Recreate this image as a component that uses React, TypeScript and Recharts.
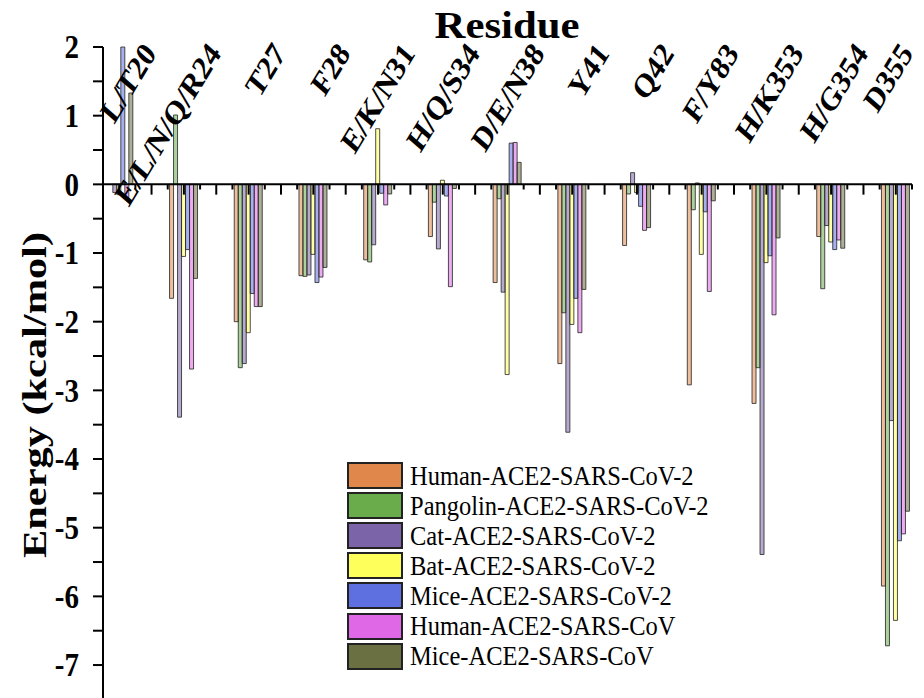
import { Bar, BarChart, Customized, Legend, ReferenceLine, XAxis, YAxis } from "recharts";

const SERIF = "'Liberation Serif', 'Times New Roman', serif";

const residues = [
  "L/T20",
  "E/L/N/Q/R24",
  "T27",
  "F28",
  "E/K/N31",
  "H/Q/S34",
  "D/E/N38",
  "Y41",
  "Q42",
  "F/Y83",
  "H/K353",
  "H/G354",
  "D355",
];

// binding energy per residue (kcal/mol)
const humanCoV2 = [0, -1.66, -2.0, -1.33, -1.1, -0.76, -1.43, -2.61, -0.89, -2.92, -3.19, -0.76, -5.85];
const pangolinCoV2 = [0, 1.01, -2.67, -1.34, -1.13, -0.26, -0.21, -1.87, -0.14, -0.37, -2.67, -1.52, -6.72];
const catCoV2 = [-0.12, -3.39, -2.61, -1.32, -0.88, -0.94, -1.57, -3.61, 0.17, 0.02, -5.39, -0.6, -3.44];
const batCoV2 = [-0.15, -1.05, -2.16, -1.02, 0.81, 0.06, -2.77, -2.04, -0.12, -1.02, -1.14, -0.84, -6.35];
const miceCoV2 = [2.0, -0.95, -1.59, -1.43, -0.13, -0.17, 0.6, -1.66, -0.32, -0.4, -1.04, -0.95, -5.19];
const humanCoV = [-0.2, -2.69, -1.78, -1.35, -0.3, -1.49, 0.61, -2.16, -0.67, -1.56, -1.9, -0.81, -5.09];
const miceCoV = [1.33, -1.37, -1.78, -1.21, -0.14, -0.06, 0.32, -1.53, -0.63, -0.24, -0.78, -0.93, -4.76];

const seriesKeys = ["humanCoV2", "pangolinCoV2", "catCoV2", "batCoV2", "miceCoV2", "humanCoV", "miceCoV"];
const seriesNames = [
  "Human-ACE2-SARS-CoV-2",
  "Pangolin-ACE2-SARS-CoV-2",
  "Cat-ACE2-SARS-CoV-2",
  "Bat-ACE2-SARS-CoV-2",
  "Mice-ACE2-SARS-CoV-2",
  "Human-ACE2-SARS-CoV",
  "Mice-ACE2-SARS-CoV",
];
const seriesColors = ["#E0884C", "#6AAB4C", "#7C64A8", "#FFFF5C", "#5E6FE0", "#DE68E6", "#6A7042"];
const seriesValues = [humanCoV2, pangolinCoV2, catCoV2, batCoV2, miceCoV2, humanCoV, miceCoV];

const yTicks: number[] = [];
for (let v = 2; v >= -7; v -= 0.5) yTicks.push(v);

const data = residues.map((residue, i) => {
  const row: Record<string, number | string> = { pos: i, residue };
  seriesKeys.forEach((key, s) => {
    row[key] = seriesValues[s][i];
  });
  return row;
});

// tick marks along the zero line: every quarter step, longer on half steps
const zeroTicks: { x: number; len: number }[] = [];
for (let q = -0.25; q <= residues.length - 0.75 + 1e-9; q += 0.25) {
  const major = Math.abs(q * 2 - Math.round(q * 2)) < 1e-9;
  zeroTicks.push({ x: q, len: major ? 0.15 : 0.075 });
}

function ResidueTick({ x, payload }: any) {
  const label = residues[payload.value];
  if (label === undefined) return null;
  // keep the last label inside the picture
  const ax = Math.min(x + 38, 914);
  return (
    <g transform={`translate(${ax},54)`}>
      <text
        transform="scale(1,1.2) rotate(-54)"
        textAnchor="end"
        fontFamily={SERIF}
        fontWeight="bold"
        fontSize={28}
        fill="#000"
      >
        {label}
      </text>
    </g>
  );
}

function EnergyTick({ x, y, payload }: any) {
  const v = payload.value;
  if (!Number.isInteger(v)) return null;
  return (
    <text
      transform={`translate(${x},${y}) scale(1,1.15)`}
      textAnchor="end"
      dy="0.34em"
      fontFamily={SERIF}
      fontWeight="bold"
      fontSize={29}
      fill="#000"
    >
      {v}
    </text>
  );
}

function Titles() {
  return (
    <g fontFamily={SERIF} fontWeight="bold" fill="#000">
      <text x={507} y={38} textAnchor="middle" fontSize={38} textLength={145} lengthAdjust="spacingAndGlyphs">
        Residue
      </text>
      <text
        transform="translate(46,395) rotate(-90)"
        textAnchor="middle"
        fontSize={34}
        textLength={326}
        lengthAdjust="spacingAndGlyphs"
      >
        Energy (kcal/mol)
      </text>
    </g>
  );
}

function LegendBox() {
  return (
    <div style={{ fontFamily: SERIF, color: "#000" }}>
      {seriesNames.map((name, i) => (
        <div key={name} style={{ display: "flex", alignItems: "center", height: 30.1 }}>
          <span
            style={{
              width: 52,
              height: 23,
              border: "2px solid #222",
              background: seriesColors[i],
              marginRight: 7,
              flex: "none",
            }}
          />
          <span
            style={{
              fontSize: 24.5,
              lineHeight: "22px",
              display: "inline-block",
              whiteSpace: "nowrap",
              transform: "scaleY(1.12)",
            }}
          >
            {name}
          </span>
        </div>
      ))}
    </div>
  );
}

export default function App() {
  return (
    <div style={{ position: "fixed", left: 0, top: 0, background: "#fff" }}>
      <BarChart
        width={924}
        height={698}
        data={data}
        barGap={0}
        margin={{ top: 27, right: 12, left: 0, bottom: 0 }}
      >
        <XAxis
          dataKey="pos"
          type="number"
          orientation="top"
          domain={[-0.25, residues.length - 0.75]}
          ticks={residues.map((_, i) => i)}
          interval={0}
          height={20}
          axisLine={false}
          tickLine={false}
          tick={<ResidueTick />}
        />
        <YAxis
          type="number"
          domain={[-7.48, 2]}
          ticks={yTicks}
          interval={0}
          width={103}
          axisLine={{ stroke: "#000", strokeWidth: 2 }}
          tickLine={{ stroke: "#000", strokeWidth: 2 }}
          tickSize={10}
          tickMargin={14}
          tick={<EnergyTick />}
        />
        {seriesKeys.map((key, i) => (
          <Bar
            key={key}
            dataKey={key}
            name={seriesNames[i]}
            fill={seriesColors[i]}
            fillOpacity={0.55}
            stroke="#222"
            strokeWidth={0.8}
            barSize={4}
            isAnimationActive={false}
          />
        ))}
        <ReferenceLine y={0} stroke="#000" strokeWidth={2} />
        {zeroTicks.map((t) => (
          <ReferenceLine
            key={t.x}
            segment={[
              { x: t.x, y: 0 },
              { x: t.x, y: -t.len },
            ]}
            stroke="#000"
            strokeWidth={2}
          />
        ))}
        <Legend
          layout="vertical"
          align="center"
          verticalAlign="middle"
          wrapperStyle={{ left: 347, top: 460.5, width: 400 }}
          content={<LegendBox />}
        />
        <Customized component={<Titles />} />
      </BarChart>
    </div>
  );
}
